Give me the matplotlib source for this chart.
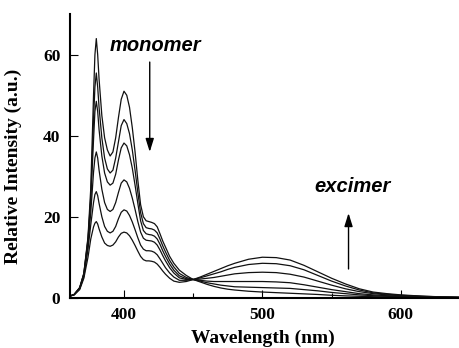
import matplotlib
matplotlib.use("Agg")
import matplotlib.pyplot as plt

# Wavelength grid (nm)
wavelength = [360, 364, 368, 371, 374, 376, 378, 379, 380, 381, 382, 384, 386, 388, 390,
              392, 394, 396, 398, 400, 402, 404, 406, 408, 410, 412, 414, 416, 418, 420,
              422, 424, 426, 428, 430, 433, 436, 440, 445,
              450, 455, 460, 465, 470, 475, 480, 490, 500, 510, 520, 530, 540, 550, 560,
              570, 580, 590, 600, 615, 630, 645]

# Spectra, from strongest monomer emission to weakest
spec_1 = [0.3, 0.8, 2.5, 6, 15, 27, 50, 60, 64, 60, 54, 45, 39.5, 36.5, 35,
          36, 39.5, 44.5, 49, 51, 50, 47, 42, 36, 29, 23, 20, 19, 18.8, 18.6,
          18.3, 17.5, 15.8, 14, 12.5, 10.2, 8.5, 6.8, 5.5,
          4.5, 3.9, 3.3, 2.8, 2.4, 2.1, 1.9, 1.6, 1.4, 1.25, 1.1, 0.95, 0.8, 0.6, 0.45,
          0.35, 0.25, 0.2, 0.15, 0.1, 0.05, 0.02]
spec_2 = [0.3, 0.8, 2.5, 6, 14.5, 25, 44, 52, 55.5, 52, 47, 39.5, 34.5, 31.8, 30.8,
          31.5, 34.5, 38.5, 42.5, 44, 43, 40.5, 36.5, 31.5, 26, 21, 18.3, 17.3, 17.1, 17,
          16.7, 16, 14.5, 12.8, 11.3, 9.2, 7.6, 6.0, 5.0,
          4.5, 4.1, 3.7, 3.4, 3.1, 2.9, 2.7, 2.6, 2.5, 2.4, 2.3, 2.0, 1.7, 1.3, 1.0,
          0.7, 0.5, 0.35, 0.25, 0.15, 0.08, 0.03]
spec_3 = [0.3, 0.8, 2.4, 5.8, 14, 24, 39, 46, 48.5, 46, 41.5, 35, 30.8, 28.6, 27.8,
          28.3, 30.5, 34, 37, 38.2, 37.5, 35.3, 32, 27.8, 23.3, 19, 16.6, 15.8, 15.6, 15.5,
          15.2, 14.5, 13.2, 11.6, 10.2, 8.3, 6.8, 5.4, 4.7,
          4.5, 4.3, 4.1, 4.0, 4.0, 4.0, 4.0, 4.0, 4.0, 3.9, 3.7, 3.2, 2.6, 2.0, 1.5,
          1.0, 0.7, 0.5, 0.35, 0.2, 0.1, 0.05]
spec_4 = [0.3, 0.8, 2.3, 5.5, 13, 21, 31, 34.5, 36, 34.5, 31.5, 26.8, 23.5, 21.8, 21.3,
          21.8, 23.5, 26, 28.3, 29.1, 28.6, 27, 24.6, 21.8, 18.8, 16.2, 14.7, 14.2, 14.1, 14,
          13.7, 13, 11.8, 10.4, 9.1, 7.4, 6.1, 4.9, 4.5,
          4.5, 4.6, 4.8, 5.0, 5.3, 5.6, 5.9, 6.2, 6.3, 6.2, 5.8, 5.1, 4.1, 3.1, 2.2,
          1.5, 1.0, 0.7, 0.5, 0.3, 0.15, 0.05]
spec_5 = [0.3, 0.7, 2.2, 5.2, 12, 18, 23.5, 25.5, 26.2, 25.2, 23.3, 20, 17.6, 16.4, 16,
          16.4, 17.6, 19.5, 21.1, 21.7, 21.4, 20.3, 18.7, 16.8, 14.8, 13, 12, 11.6, 11.6, 11.5,
          11.2, 10.6, 9.6, 8.5, 7.4, 6.1, 5.1, 4.3, 4.3,
          4.5, 4.9, 5.4, 5.9, 6.4, 7.0, 7.5, 8.2, 8.5, 8.4, 7.9, 6.9, 5.5, 4.1, 2.9,
          1.9, 1.2, 0.85, 0.6, 0.35, 0.2, 0.1]
spec_6 = [0.3, 0.7, 2.0, 4.8, 10, 14.5, 17.5, 18.4, 18.8, 18.2, 17, 15, 13.5, 12.9, 12.7,
          13, 13.8, 15, 15.9, 16.2, 16, 15.3, 14.2, 12.9, 11.5, 10.2, 9.4, 9.1, 9.1, 9,
          8.8, 8.3, 7.5, 6.6, 5.8, 4.8, 4.1, 3.8, 4.0,
          4.5, 5.1, 5.8, 6.5, 7.2, 7.9, 8.5, 9.5, 10.0, 9.9, 9.3, 8.0, 6.4, 4.8, 3.4,
          2.2, 1.4, 1.0, 0.7, 0.4, 0.2, 0.1]

spectra = [spec_1, spec_2, spec_3, spec_4, spec_5, spec_6]

x_major = [400, 500, 600]
x_minor = [450, 550]
y_major = [0, 20, 40, 60]

fig = plt.figure(figsize=(4.59, 3.48), dpi=100)
ax = fig.add_axes([0.1525, 0.1445, 0.8475, 0.8145])

for s in spectra:
    ax.plot(wavelength, s, color="#111111", lw=0.9)

ax.set_xlim(361, 642)
ax.set_ylim(0, 70)

ax.spines["top"].set_visible(False)
ax.spines["right"].set_visible(False)
ax.spines["left"].set_linewidth(1.5)
ax.spines["bottom"].set_linewidth(1.5)

ax.set_xticks(x_major)
ax.set_xticks(x_minor, minor=True)
ax.set_yticks(y_major)
ax.tick_params(axis="both", which="major", direction="in", length=6, width=0.8, pad=7)
ax.tick_params(axis="both", which="minor", direction="in", length=3.5, width=0.8)

serif = ["Liberation Serif", "DejaVu Serif"]
for lab in ax.get_xticklabels() + ax.get_yticklabels():
    lab.set_fontfamily(serif)
    lab.set_fontweight("bold")
    lab.set_fontsize(12.5)

ax.set_xlabel("Wavelength (nm)", fontfamily=serif, fontweight="bold", fontsize=14)
ax.set_ylabel("Relative Intensity (a.u.)", fontfamily=serif, fontweight="bold", fontsize=14)
ax.yaxis.set_label_coords(-0.123, 0.462)
ax.xaxis.set_label_coords(0.496, -0.112)

sans = ["Liberation Sans", "DejaVu Sans"]
ax.text(423, 62.4, "monomer", fontfamily=sans, fontweight="bold", fontstyle="italic",
        fontsize=14.5, ha="center", va="center")
ax.text(565, 27.5, "excimer", fontfamily=sans, fontweight="bold", fontstyle="italic",
        fontsize=14.5, ha="center", va="center")

ax.annotate("", xy=(418.6, 36), xytext=(418.6, 58.2),
            arrowprops=dict(arrowstyle="-|>,head_length=0.8,head_width=0.25",
                            color="black", lw=1.0, shrinkA=0, shrinkB=0))
ax.annotate("", xy=(562.2, 20.9), xytext=(562.2, 7.1),
            arrowprops=dict(arrowstyle="-|>,head_length=0.8,head_width=0.25",
                            color="black", lw=1.0, shrinkA=0, shrinkB=0))

fig.savefig("out.png", dpi=100)
